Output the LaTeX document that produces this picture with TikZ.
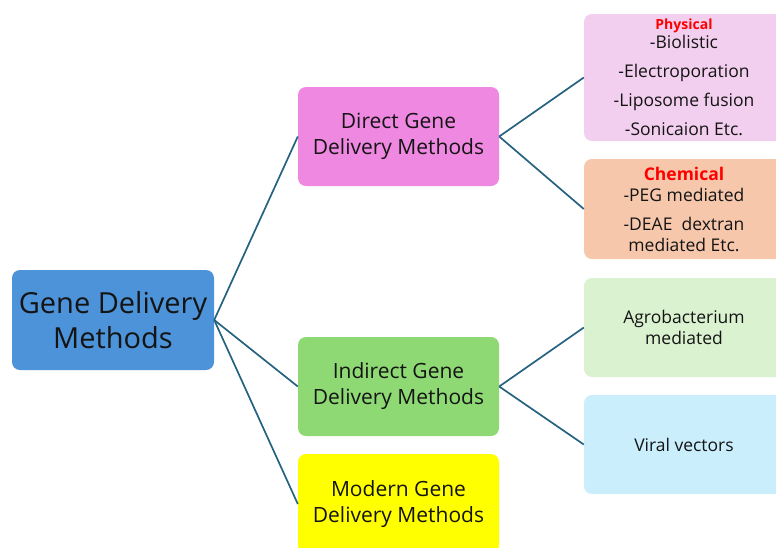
\documentclass[tikz,border=0pt]{standalone}
\usepackage{fontspec}
\setmainfont{Open Sans}
\definecolor{rootblue}{RGB}{77,147,217}
\definecolor{directpink}{RGB}{238,136,224}
\definecolor{indirectgreen}{RGB}{142,217,115}
\definecolor{modernyellow}{RGB}{255,255,0}
\definecolor{physpink}{RGB}{242,207,238}
\definecolor{chemorange}{RGB}{247,199,172}
\definecolor{agrogreen}{RGB}{218,242,208}
\definecolor{viralblue}{RGB}{202,238,251}
\definecolor{linkteal}{RGB}{38,98,128}
\definecolor{headred}{RGB}{255,0,0}
\definecolor{txt}{RGB}{20,20,20}
\begin{document}
\begin{tikzpicture}[x=1pt, y=1pt,
        box/.style={rounded corners=8pt, align=center, text=txt, inner sep=0pt},
        link/.style={linkteal, line width=1.7pt},
        head/.style={headred, font=\bfseries}]
        \useasboundingbox (0,0) rectangle (776,-547);
        % main box
        \node[box, fill=rootblue, minimum width=202, minimum height=100, font=\fontsize{29}{35}\selectfont] (gd) at (113,-320) {Gene Delivery\\Methods};
        % second level
        \node[box, fill=directpink, minimum width=201, minimum height=99, font=\fontsize{21}{26}\selectfont] (dir) at (398.5,-136.5) {Direct Gene\\Delivery Methods};
        \node[box, fill=indirectgreen, minimum width=201, minimum height=99, font=\fontsize{21}{26}\selectfont] (ind) at (398.5,-386.5) {Indirect Gene\\Delivery Methods};
        \node[box, fill=modernyellow, minimum width=201, minimum height=100, font=\fontsize{21}{26}\selectfont] (mod) at (398.5,-504) {Modern Gene\\Delivery Methods};
        % third level
        \node[box, fill=physpink, minimum width=200, minimum height=127, font=\fontsize{17.5}{29}\selectfont] (phy) at (684,-77.5) {{\fontsize{14}{14}\selectfont\textcolor{headred}{\bfseries Physical}}\\[-10pt]-Biolistic\\-Electroporation\\-Liposome fusion\\-Sonicaion Etc.};
        \node[box, fill=chemorange, minimum width=200, minimum height=100, font=\fontsize{17.5}{21}\selectfont] (chem) at (684,-209) {\textcolor{headred}{\bfseries Chemical}\\-PEG mediated\\[8pt]-DEAE\ \ dextran\\mediated Etc.};
        \node[box, fill=agrogreen, minimum width=200, minimum height=99, font=\fontsize{17.5}{21}\selectfont] (agro) at (684,-327.5) {Agrobacterium\\mediated};
        \node[box, fill=viralblue, minimum width=200, minimum height=99, font=\fontsize{17.5}{21}\selectfont] (vir) at (684,-444.5) {Viral vectors};
        % connectors
        \draw[link] (gd.east) -- (dir.west);
        \draw[link] (gd.east) -- (ind.west);
        \draw[link] (gd.east) -- (mod.west);
        \draw[link] (dir.east) -- (phy.west);
        \draw[link] (dir.east) -- (chem.west);
        \draw[link] (ind.east) -- (agro.west);
        \draw[link] (ind.east) -- (vir.west);
    \end{tikzpicture}
\end{document}
